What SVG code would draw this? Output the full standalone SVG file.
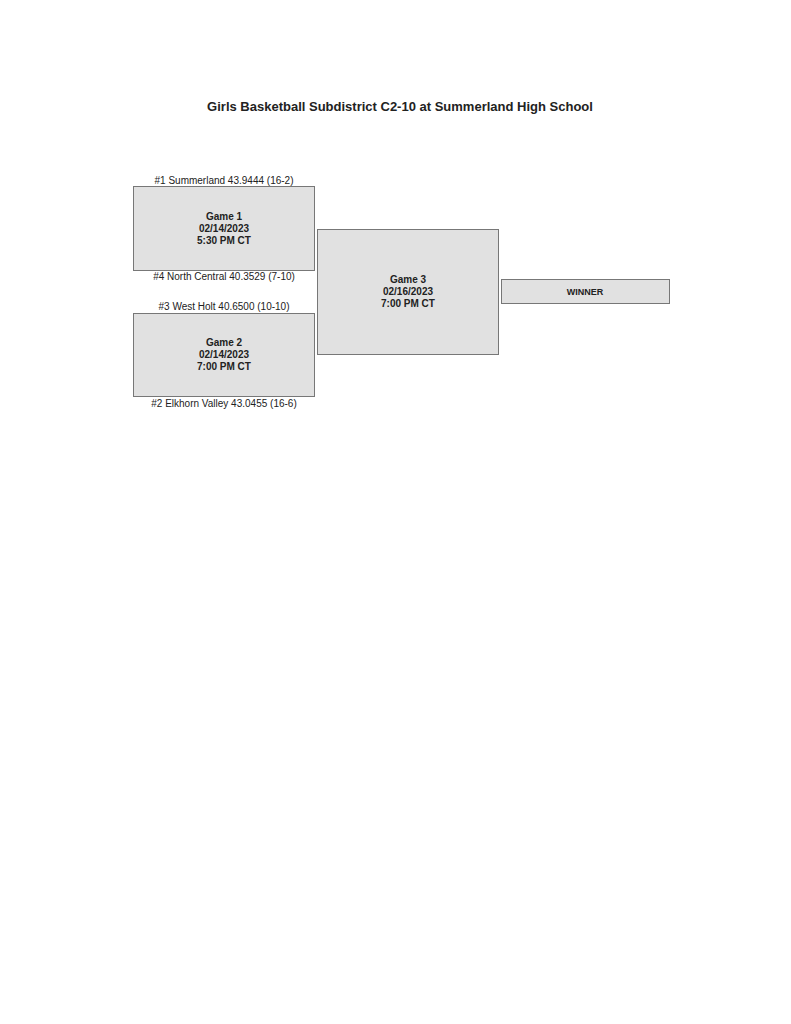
<svg xmlns="http://www.w3.org/2000/svg" width="791" height="1024" viewBox="0 0 791 1024">
<style>
.b{fill:#e1e1e1;stroke:#777;stroke-width:1}
text{font-family:"Liberation Sans",Arial,sans-serif;fill:#222;text-anchor:middle}
.t{font-size:10px}
.g{font-size:10px;font-weight:bold}
</style>
<rect width="791" height="1024" fill="#fff"/>
<text x="400" y="111" style="font-size:13px;font-weight:bold">Girls Basketball Subdistrict C2-10 at Summerland High School</text>
<g id="connectors"></g>
<g id="game1">
<text class="t" x="224" y="184">#1 Summerland 43.9444 (16-2)</text>
<rect class="b" x="133.5" y="186.5" width="181" height="84"/>
<text class="g" x="224" y="220">Game 1</text>
<text class="g" x="224" y="232">02/14/2023</text>
<text class="g" x="224" y="244">5:30 PM CT</text>
<text class="t" x="224" y="280">#4 North Central 40.3529 (7-10)</text>
</g>
<g id="game2">
<text class="t" x="224" y="310">#3 West Holt 40.6500 (10-10)</text>
<rect class="b" x="133.5" y="313.5" width="181" height="83"/>
<text class="g" x="224" y="346">Game 2</text>
<text class="g" x="224" y="358">02/14/2023</text>
<text class="g" x="224" y="370">7:00 PM CT</text>
<text class="t" x="224" y="407">#2 Elkhorn Valley 43.0455 (16-6)</text>
</g>
<g id="game3">
<rect class="b" x="317.5" y="229.5" width="181" height="125"/>
<text class="g" x="408" y="283">Game 3</text>
<text class="g" x="408" y="295">02/16/2023</text>
<text class="g" x="408" y="307">7:00 PM CT</text>
</g>
<g id="winner">
<rect class="b" x="501.5" y="279.5" width="168" height="24"/>
<text class="g" x="585" y="295" style="font-size:9px">WINNER</text>
</g>
</svg>
